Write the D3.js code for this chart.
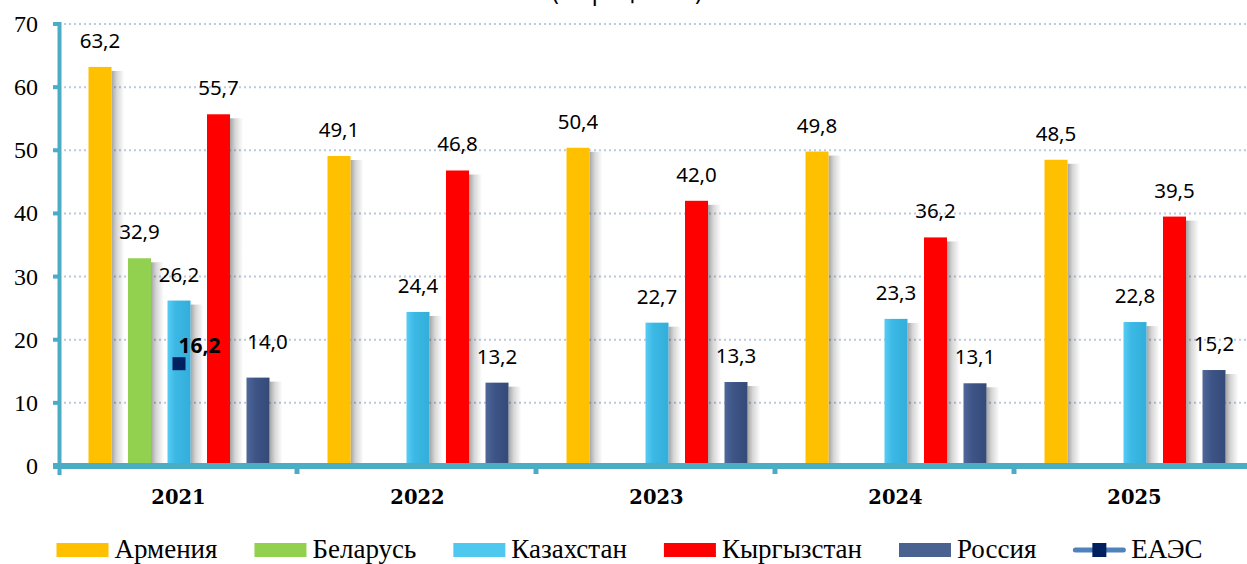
<!DOCTYPE html>
<html><head><meta charset="utf-8">
<script src="https://cdn.jsdelivr.net/npm/d3@7"></script>
<style>
html,body{margin:0;padding:0;background:#fff;overflow:hidden}
svg{display:block}
</style></head>
<body>
<svg id="chart" width="1247" height="564"></svg>
<script>
const years = ["2021","2022","2023","2024","2025"];
const seriesNames = ["Армения","Беларусь","Казахстан","Кыргызстан","Россия"];
const armenia    = [63.2, 49.1, 50.4, 49.8, 48.5];
const belarus    = [32.9, null, null, null, null];
const kazakhstan = [26.2, 24.4, 22.7, 23.3, 22.8];
const kyrgyzstan = [55.7, 46.8, 42.0, 36.2, 39.5];
const russia     = [14.0, 13.2, 13.3, 13.1, 15.2];
const eaeu       = [16.2, null, null, null, null];
const eaeuName   = "ЕАЭС";
const yTicks     = [0, 10, 20, 30, 40, 50, 60, 70];
const titleText  = "(в процентах)";

const seriesValues = [armenia, belarus, kazakhstan, kyrgyzstan, russia];
const colors = ["#FFC000", "#92D050", "url(#gKaz)", "#FF0000", "url(#gRus)"];
const legendColors = ["#FFC000", "#92D050", "#4FC8F0", "#FF0000", "#4A6290"];
const fmt = v => d3.format(".1f")(v).replace(".", ",");

const svg = d3.select("#chart");
const defs = svg.append("defs");
function grad(id, stops){
  const g = defs.append("linearGradient").attr("id", id).attr("x1","0").attr("x2","1").attr("y1","0").attr("y2","0");
  stops.forEach(s => g.append("stop").attr("offset", s[0]).attr("stop-color", s[1]).attr("stop-opacity", s[2] == null ? 1 : s[2]));
}
grad("gKaz", [[0,"#55CCF4"],[0.35,"#3CB8E4"],[1,"#33AEDB"]]);
grad("gRus", [[0,"#4E6898"],[0.4,"#3D5486"],[1,"#344A78"]]);
grad("gShadow", [[0,"#000",0.36],[0.4,"#000",0.16],[1,"#000",0]]);

const x0 = 58, bandW = 239;
const x = d3.scaleBand().domain(years).range([x0, x0 + bandW * years.length]).padding(0);
const xs = d3.scalePoint().domain(seriesNames).range([bandW/2 - 77.5, bandW/2 + 80.5]);
const y = d3.scaleLinear().domain([0, 70]).range([466, 24]);
const barW = 23;

// title (mostly cut off at the top, as in the reference)
svg.append("text").attr("x", 627).attr("y", -0.5).attr("text-anchor","middle")
  .attr("font-family","'Noto Sans', sans-serif").attr("font-size", 23).attr("fill","#000").text(titleText);

// grid
svg.append("g").selectAll("line").data(yTicks.filter(t => t > 0)).join("line")
  .attr("x1", 64).attr("x2", 1247).attr("y1", d => y(d)).attr("y2", d => y(d))
  .attr("stroke", "#BCC8DC").attr("stroke-width", 2).attr("stroke-dasharray", "2,3");

// bars
seriesNames.forEach((name, si) => {
  const data = years.map((yr, i) => ({yr, v: seriesValues[si][i]})).filter(d => d.v != null);
  const g = svg.append("g");
  g.selectAll("rect.sh").data(data).join("rect").attr("class","sh")
    .attr("x", d => x(d.yr) + xs(name) + barW/2)
    .attr("y", d => y(d.v) + 4)
    .attr("width", 13)
    .attr("height", d => y(0) - y(d.v) - 4)
    .attr("fill", "url(#gShadow)");
  g.selectAll("rect.bar").data(data).join("rect").attr("class","bar")
    .attr("x", d => x(d.yr) + xs(name) - barW/2)
    .attr("y", d => y(d.v))
    .attr("width", barW)
    .attr("height", d => y(0) - y(d.v))
    .attr("fill", colors[si]);
  g.selectAll("text").data(data).join("text")
    .attr("x", d => x(d.yr) + xs(name) + ((si === 4 && d.yr === "2021") ? 9.5 : 0))
    .attr("y", d => y(d.v) - 19 - ((si === 4 && d.yr === "2021") ? 10 : 0))
    .attr("text-anchor","middle")
    .attr("font-family","'Noto Sans', sans-serif").attr("font-size", 20.5).attr("fill","#000")
    .text(d => fmt(d.v));
});

// axes
const axisColor = "#4BACC6";
svg.append("line").attr("x1", 59.5).attr("x2", 59.5).attr("y1", 22).attr("y2", 475)
  .attr("stroke", axisColor).attr("stroke-width", 4);
svg.append("g").selectAll("line").data(yTicks).join("line")
  .attr("x1", 53).attr("x2", 60).attr("y1", d => y(d)).attr("y2", d => y(d))
  .attr("stroke", axisColor).attr("stroke-width", 4);
svg.append("line").attr("x1", 53).attr("x2", 1247).attr("y1", 466).attr("y2", 466)
  .attr("stroke", axisColor).attr("stroke-width", 6);
svg.append("g").selectAll("line").data(years.slice(1)).join("line")
  .attr("x1", d => x(d)).attr("x2", d => x(d)).attr("y1", 466).attr("y2", 474)
  .attr("stroke", axisColor).attr("stroke-width", 5);

// y labels
svg.append("g").selectAll("text").data(yTicks).join("text")
  .attr("x", 38).attr("y", d => y(d) + 8).attr("text-anchor","end")
  .attr("font-family","'Liberation Serif', serif").attr("font-size", 24).attr("fill","#000")
  .text(d => d);

// x labels
svg.append("g").selectAll("text").data(years).join("text")
  .attr("x", d => x(d) + bandW/2 + 1).attr("y", 504).attr("text-anchor","middle")
  .attr("font-family","'DejaVu Serif', serif").attr("font-weight","bold").attr("font-size", 19.5).attr("fill","#000")
  .text(d => d);

// EAEU point
const eData = years.map((yr, i) => ({yr, v: eaeu[i]})).filter(d => d.v != null);
svg.append("g").selectAll("rect").data(eData).join("rect")
  .attr("x", d => x(d.yr) + bandW/2 + 1.5 - 6.5).attr("y", d => y(d.v) - 6.5)
  .attr("width", 13).attr("height", 13).attr("fill", "#002060");
svg.append("g").selectAll("text").data(eData).join("text")
  .attr("x", d => x(d.yr) + bandW/2 + 22).attr("y", d => y(d.v) - 11)
  .attr("text-anchor","middle")
  .attr("font-family","'Noto Sans', sans-serif").attr("font-weight","bold").attr("font-size", 21).attr("fill","#000")
  .text(d => fmt(d.v));

// legend
const leg = svg.append("g");
const items = seriesNames.map((n, i) => ({name: n, color: legendColors[i], type: "bar"}))
  .concat([{name: eaeuName, type: "line"}]);
let cx = 0;
const legY = 550;
items.forEach(it => {
  const g = leg.append("g").attr("transform", `translate(${cx},0)`);
  if (it.type === "bar") {
    g.append("rect").attr("x", 0).attr("y", legY - 7).attr("width", 52).attr("height", 14).attr("fill", it.color);
  } else {
    g.append("line").attr("x1", 2).attr("x2", 50).attr("y1", legY).attr("y2", legY)
      .attr("stroke", "#4F81BD").attr("stroke-width", 5).attr("stroke-linecap","round");
    g.append("rect").attr("x", 19).attr("y", legY - 7).attr("width", 14).attr("height", 14).attr("fill", "#002060");
  }
  const t = g.append("text").attr("x", 58).attr("y", legY + 7.5)
    .attr("font-family","'Liberation Serif', serif").attr("font-size", 27).attr("fill","#000").text(it.name);
  cx += 58 + t.node().getComputedTextLength() + 37;
});
const total = cx - 37;
leg.attr("transform", `translate(${629.5 - total/2},0)`);
</script>
</body></html>
